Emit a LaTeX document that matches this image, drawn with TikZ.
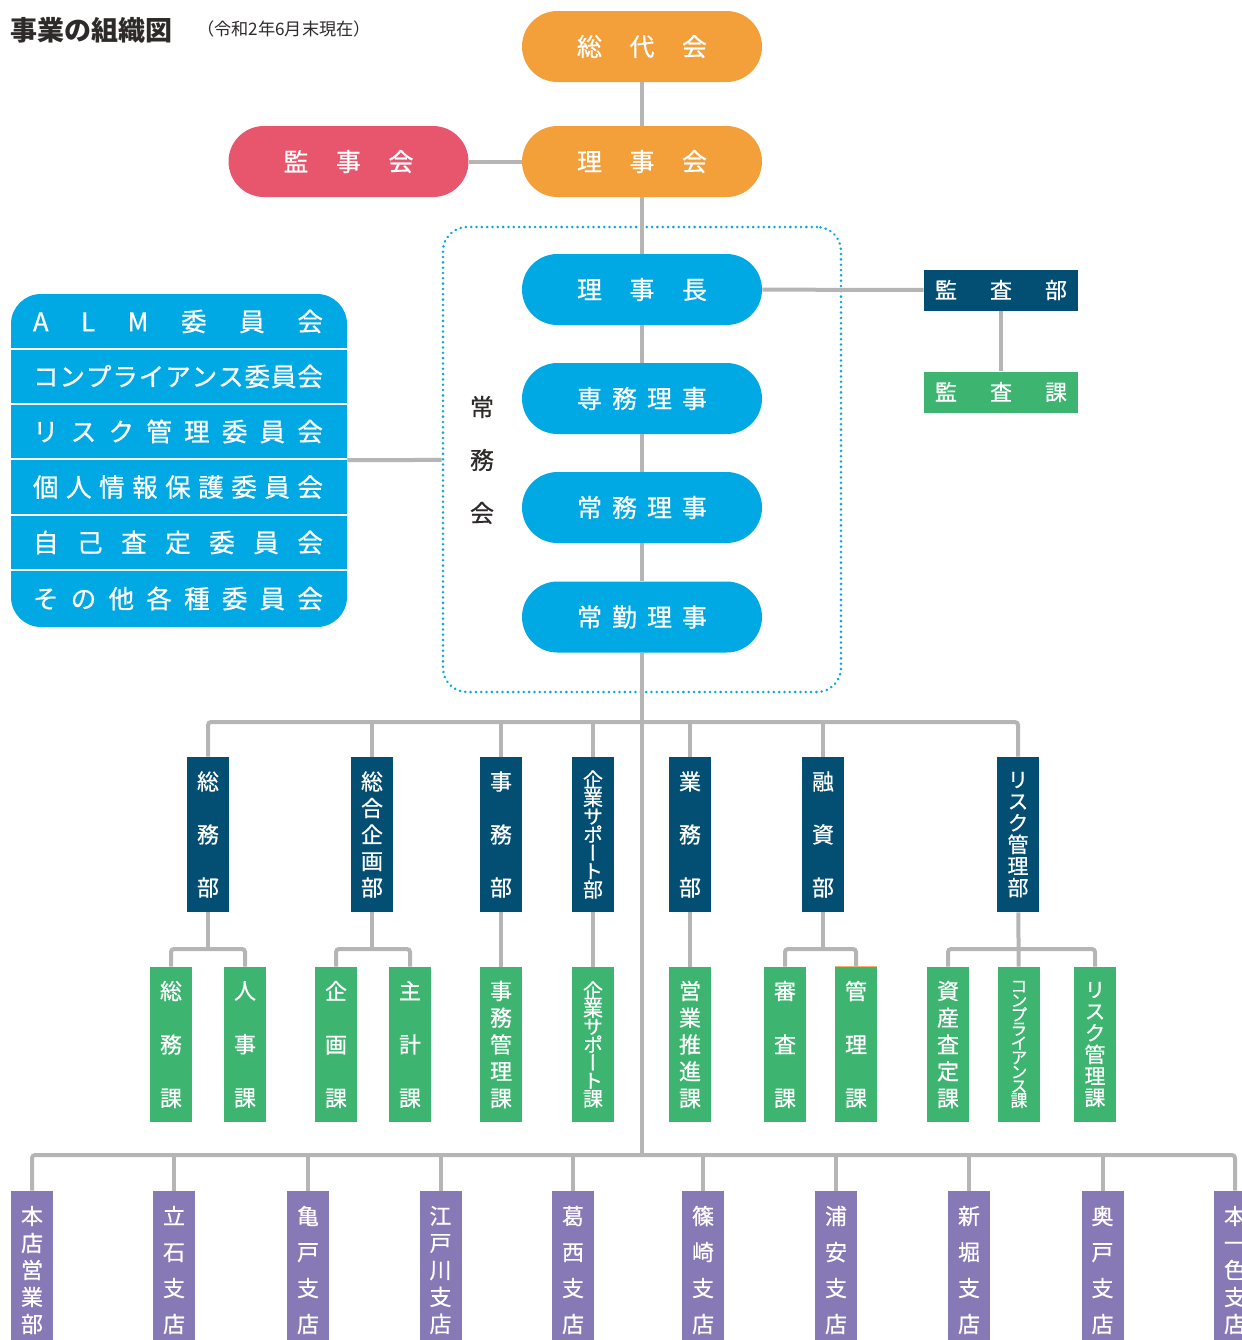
\documentclass[tikz,border=0pt]{standalone}
\usepackage{fontspec}
\setmainfont{Noto Sans CJK JP}
\newfontfamily\boxfont[FakeBold=0.6]{Noto Sans CJK JP}
\newfontfamily\tatefont[RawFeature=+vert,FakeBold=0.6]{Noto Sans CJK JP}
\definecolor{daiorange}{HTML}{F39F3A}
\definecolor{kanpink}{HTML}{E8566E}
\definecolor{rijiblue}{HTML}{00A8E4}
\definecolor{bunavy}{HTML}{034F74}
\definecolor{kagreen}{HTML}{3DB46F}
\definecolor{tenpurple}{HTML}{8778B6}
\definecolor{sengray}{HTML}{B5B5B5}
\definecolor{moji}{HTML}{2E2A2A}
\makeatletter
\newcommand\spread[2]{\makebox[#1][s]{\spread@#2\@nil}}
\def\spread@#1#2\@nil{#1\ifx\relax#2\relax\else\hfill\spread@#2\@nil\fi}
\makeatother
\newcommand\tatesize[2]{\tatefont\fontsize{#1}{#2}\selectfont}
\lineskiplimit=-30pt

\begin{document}
\begin{tikzpicture}[x=0.5pt,y=-0.5pt,
  pill/.style={rectangle,rounded corners=17.75pt,minimum width=120pt,minimum height=35.5pt,inner sep=0pt,text=white,font=\boxfont\fontsize{12.5pt}{15pt}\selectfont},
  bar/.style={rectangle,minimum width=77pt,minimum height=20.5pt,inner sep=0pt,text=white,font=\boxfont\fontsize{11pt}{13pt}\selectfont},
  col/.style={rectangle,minimum width=21pt,minimum height=77.5pt,inner sep=0pt},
  tate/.style 2 args={align=center,text=white,font=\tatesize{#1}{#2}},
  iin/.style={inner sep=0pt,text=white,font=\boxfont\fontsize{12.8pt}{15pt}\selectfont},
  sep/.style={draw=white,line width=0.7pt},
  link/.style={draw=sengray,line width=2pt,rounded corners=1.5pt}]
\useasboundingbox (0,0) rectangle (1242,1340);
\clip (0,0) rectangle (1242,1340);

\node[anchor=west,text=moji,font=\fontsize{13.5pt}{16pt}\selectfont\bfseries] (title) at (3,30) {事業の組織図};
\node[anchor=west,text=moji,font=\fontsize{8.6pt}{10pt}\selectfont] (asof) at (190,29) {（令和2年6月末現在）};

\node[pill,fill=daiorange] (sodai) at (642,46.5) {\spread{65pt}{総代会}};
\node[pill,fill=daiorange] (rijikai) at (642,161.5) {\spread{65pt}{理事会}};
\node[pill,fill=kanpink] (kanjikai) at (348.5,161.5) {\spread{65pt}{監事会}};

\node[rectangle,minimum width=199pt,minimum height=232.5pt,rounded corners=12pt,draw=rijiblue,line width=1.4pt,line cap=round,dash pattern=on 0.01pt off 2.65pt] (joumukai) at (642,459.5) {};
\node[tate={12pt}{26.5pt},text=moji,inner sep=0pt] (joumulabel) at (482,460) {常\\務\\会};
\node[pill,fill=rijiblue] (rijicho) at (642,289.5) {\spread{65pt}{理事長}};
\node[pill,fill=rijiblue] (senmu) at (642,398.5) {\spread{65pt}{専務理事}};
\node[pill,fill=rijiblue] (jomu) at (642,507.5) {\spread{65pt}{常務理事}};
\node[pill,fill=rijiblue] (jokin) at (642,617) {\spread{65pt}{常勤理事}};

\node[bar,fill=bunavy] (kansabu) at (1001,290) {\spread{66pt}{監査部}};
\node[bar,fill=kagreen] (kansaka) at (1001,392) {\spread{66pt}{監査課}};

\node[rectangle,fill=rijiblue,rounded corners=15pt,minimum width=168pt,minimum height=166.5pt,inner sep=0pt] (iinkai) at (179,460.5) {};
\draw[sep] (11,349) -- (347,349);
\draw[sep] (11,404) -- (347,404);
\draw[sep] (11,459) -- (347,459);
\draw[sep] (11,515) -- (347,515);
\draw[sep] (11,570) -- (347,570);
\node[iin] (iin1) at (178,321.5) {\spread{145pt}{ALM委員会}};
\node[iin] (iin2) at (178,376.5) {\spread{145pt}{コンプライアンス委員会}};
\node[iin] (iin3) at (178,431.5) {\spread{145pt}{リスク管理委員会}};
\node[iin] (iin4) at (178,487) {\spread{145pt}{個人情報保護委員会}};
\node[iin] (iin5) at (178,542.5) {\spread{145pt}{自己査定委員会}};
\node[iin] (iin6) at (178,598.5) {\spread{145pt}{その他各種委員会}};

\node[col,fill=bunavy,tate={11pt}{26.5pt}] (soumubu) at (208,834.5) {総\\務\\部};
\node[col,fill=bunavy,tate={11pt}{13.25pt}] (kikakubu) at (372,834.5) {総\\合\\企\\画\\部};
\node[col,fill=bunavy,tate={11pt}{26.5pt}] (jimubu) at (501,834.5) {事\\務\\部};
\node[col,fill=bunavy,tate={10pt}{9.15pt}] (kigyoubu) at (593,834.5) {企\\業\\サ\\ポ\\ー\\ト\\部};
\node[col,fill=bunavy,tate={11pt}{26.5pt}] (gyoumubu) at (690,834.5) {業\\務\\部};
\node[col,fill=bunavy,tate={11pt}{26.5pt}] (yuushibu) at (823,834.5) {融\\資\\部};
\node[col,fill=bunavy,tate={10.5pt}{10.8pt}] (risukubu) at (1018,834.5) {リ\\ス\\ク\\管\\理\\部};

\node[col,fill=kagreen,tate={11pt}{26.75pt}] (soumuka) at (171,1044.5) {総\\務\\課};
\node[col,fill=kagreen,tate={11pt}{26.75pt}] (jinjika) at (245,1044.5) {人\\事\\課};
\node[col,fill=kagreen,tate={11pt}{26.75pt}] (kikakuka) at (336,1044.5) {企\\画\\課};
\node[col,fill=kagreen,tate={11pt}{26.75pt}] (shukeika) at (410,1044.5) {主\\計\\課};
\node[col,fill=kagreen,tate={11pt}{13.4pt}] (jimukanri) at (501,1044.5) {事\\務\\管\\理\\課};
\node[col,fill=kagreen,tate={10pt}{9pt}] (kigyouka) at (593,1044.5) {企\\業\\サ\\ポ\\ー\\ト\\課};
\node[col,fill=kagreen,tate={11pt}{13.4pt}] (eigyouka) at (690,1044.5) {営\\業\\推\\進\\課};
\node[col,fill=kagreen,tate={11pt}{26.75pt}] (shinsaka) at (785,1044.5) {審\\査\\課};
\node[col,fill=kagreen,tate={11pt}{26.75pt}] (kanrika) at (856,1044.5) {管\\理\\課};
\draw[draw=daiorange!80!white,line width=0.6pt] (kanrika.north west) -- (kanrika.north east);
\node[col,fill=kagreen,tate={11pt}{13.4pt}] (shisanka) at (948,1044.5) {資\\産\\査\\定\\課};
\node[col,fill=kagreen,tate={8.5pt}{7.15pt}] (compka) at (1019,1044.5) {コ\\ン\\プ\\ラ\\イ\\ア\\ン\\ス\\課};
\node[col,fill=kagreen,tate={10.5pt}{10.8pt}] (risukuka) at (1095,1044.5) {リ\\ス\\ク\\管\\理\\課};

\node[col,minimum height=79pt,fill=tenpurple,tate={11pt}{13.5pt}] (honten) at (32,1270) {本\\店\\営\\業\\部};
\node[col,minimum height=79pt,fill=tenpurple,tate={11pt}{18pt}] (tateishi) at (174,1270) {立\\石\\支\\店};
\node[col,minimum height=79pt,fill=tenpurple,tate={11pt}{18pt}] (kameido) at (308,1270) {亀\\戸\\支\\店};
\node[col,minimum height=79pt,fill=tenpurple,tate={11pt}{13.5pt}] (edogawa) at (440.5,1270) {江\\戸\\川\\支\\店};
\node[col,minimum height=79pt,fill=tenpurple,tate={11pt}{18pt}] (kasai) at (573,1270) {葛\\西\\支\\店};
\node[col,minimum height=79pt,fill=tenpurple,tate={11pt}{18pt}] (shinozaki) at (703,1270) {篠\\崎\\支\\店};
\node[col,minimum height=79pt,fill=tenpurple,tate={11pt}{18pt}] (urayasu) at (836,1270) {浦\\安\\支\\店};
\node[col,minimum height=79pt,fill=tenpurple,tate={11pt}{18pt}] (shinbori) at (969,1270) {新\\堀\\支\\店};
\node[col,minimum height=79pt,fill=tenpurple,tate={11pt}{18pt}] (okudo) at (1102.5,1270) {奥\\戸\\支\\店};
\node[col,minimum height=79pt,fill=tenpurple,tate={11pt}{13.5pt}] (honisshiki) at (1235,1270) {本\\一\\色\\支\\店};

\coordinate (bubus) at (642,722);
\coordinate (kabus) at (642,949);
\coordinate (tenbus) at (642,1155);

\draw[link] (sodai) -- (rijikai);
\draw[link] (kanjikai) -- (rijikai);
\draw[link] (rijikai) -- (rijicho);
\draw[link] (rijicho) -- (senmu);
\draw[link] (senmu) -- (jomu);
\draw[link] (jomu) -- (jokin);
\draw[link] (jokin) -- (tenbus);
\draw[link] (rijicho) -- (kansabu);
\draw[link] (kansabu) -- (kansaka);
\draw[link] (iinkai) -- (joumukai);

\draw[link] (soumubu) -- (soumubu |- bubus) -| (risukubu);
\draw[link] (kikakubu) -- (kikakubu |- bubus);
\draw[link] (jimubu) -- (jimubu |- bubus);
\draw[link] (kigyoubu) -- (kigyoubu |- bubus);
\draw[link] (gyoumubu) -- (gyoumubu |- bubus);
\draw[link] (yuushibu) -- (yuushibu |- bubus);

\draw[link] (soumubu) -- (soumubu |- kabus);
\draw[link] (soumuka) -- (soumuka |- kabus) -| (jinjika);
\draw[link] (kikakubu) -- (kikakubu |- kabus);
\draw[link] (kikakuka) -- (kikakuka |- kabus) -| (shukeika);
\draw[link] (jimubu) -- (jimukanri);
\draw[link] (kigyoubu) -- (kigyouka);
\draw[link] (gyoumubu) -- (eigyouka);
\draw[link] (yuushibu) -- (yuushibu |- kabus);
\draw[link] (shinsaka) -- (shinsaka |- kabus) -| (kanrika);
\draw[link] (risukubu) -- (compka);
\draw[link] (shisanka) -- (shisanka |- kabus) -| (risukuka);

\draw[link] (honten) -- (honten |- tenbus) -| (honisshiki);
\draw[link] (tateishi) -- (tateishi |- tenbus);
\draw[link] (kameido) -- (kameido |- tenbus);
\draw[link] (edogawa) -- (edogawa |- tenbus);
\draw[link] (kasai) -- (kasai |- tenbus);
\draw[link] (shinozaki) -- (shinozaki |- tenbus);
\draw[link] (urayasu) -- (urayasu |- tenbus);
\draw[link] (shinbori) -- (shinbori |- tenbus);
\draw[link] (okudo) -- (okudo |- tenbus);
\end{tikzpicture}
\end{document}
